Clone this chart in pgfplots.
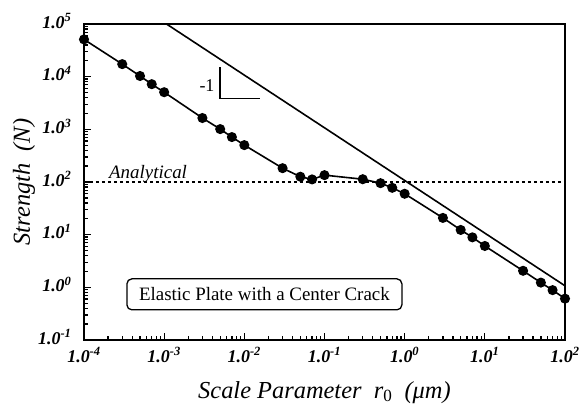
\documentclass[border=0pt]{standalone}
\usepackage{fontspec}
\setmainfont{Liberation Serif}
\usepackage{pgfplots}
\pgfplotsset{compat=1.18}

\begin{document}
\begin{tikzpicture}
\useasboundingbox (-84bp,-65bp) rectangle (504bp,340bp);
\begin{axis}[
  at={(0,0)}, anchor=south west,
  scale only axis,
  width=481bp, height=316bp,
  xmode=log, ymode=log,
  xmin=1e-4, xmax=1e2,
  ymin=1e-1, ymax=1e5,
  clip=false,
  axis line style={line width=2bp},
  tick pos=left,
  tick align=inside,
  major tick length=7bp,
  minor tick length=4bp,
  every tick/.style={line width=1.3bp, black},
  xtick={1e-4,1e-3,1e-2,1e-1,1e0,1e1,1e2},
  xticklabels={
    1.0\textsuperscript{-4},
    1.0\textsuperscript{-3},
    1.0\textsuperscript{-2},
    1.0\textsuperscript{-1},
    1.0\textsuperscript{0},
    1.0\textsuperscript{1},
    1.0\textsuperscript{2}},
  ytick={1e-1,1e0,1e1,1e2,1e3,1e4,1e5},
  yticklabels={
    1.0\textsuperscript{-1},
    1.0\textsuperscript{0},
    1.0\textsuperscript{1},
    1.0\textsuperscript{2},
    1.0\textsuperscript{3},
    1.0\textsuperscript{4},
    1.0\textsuperscript{5}},
  xticklabel style={font=\fontsize{18}{21}\selectfont\bfseries\itshape, yshift=-4bp},
  yticklabel style={font=\fontsize{18}{21}\selectfont\bfseries\itshape, anchor=base east, yshift=-4bp, xshift=-9bp},
  xlabel={\textit{Scale Parameter\ \ r}\textsubscript{0}\ \ \textit{(μm)}},
  ylabel={\textit{Strength\ \ (N)}},
  xlabel style={font=\fontsize{24.5}{28}\selectfont, at={(axis description cs:0.5,0)}, anchor=base, yshift=-58bp},
  ylabel style={font=\fontsize{24.5}{28}\selectfont, at={(axis description cs:0,0.5)}, anchor=center, yshift=60bp},
]
% numerical results
\addplot[black, line width=1.6bp, mark=*, mark size=4.2bp] coordinates {
(1e-4, 5.1e4) (3e-4, 1.73e4) (5e-4, 1.03e4) (7e-4, 7.2e3)
(1e-3, 5.07e3) (3e-3, 1.64e3) (5e-3, 1.01e3) (7e-3, 713)
(1e-2, 502) (3e-2, 183) (5e-2, 126) (7e-2, 112)
(1e-1, 135) (3e-1, 113) (5e-1, 95) (7e-1, 77.6)
(1, 59.8) (3, 20.8) (5, 12.3) (7, 8.9)
(10, 6.1) (30, 2.06) (50, 1.23) (70, 0.885) (100, 0.61)
};
% slope -1 line
\addplot[black, line width=1.6bp] coordinates {(1.07e-3, 1e5) (100, 1.07)};
% analytical
\addplot[black, line width=1.8bp, dash pattern=on 3.5bp off 2.5bp] coordinates {(1e-4, 100) (1e2, 100)};
% slope triangle
\addplot[black, line width=1.3bp] coordinates {(4.97e-3, 1.52e4) (4.97e-3, 3.9e3) (1.57e-2, 3.9e3)};
\node[font=\fontsize{18}{20}\selectfont] at (axis cs:3.42e-3, 6.9e3) {-1};
\node[font=\fontsize{19}{22}\selectfont\itshape, anchor=base] at (axis cs:6.3e-4, 117) {Analytical};
\node[draw, line width=1.3bp, rounded corners=5bp, inner sep=0pt, minimum width=275bp, minimum height=31bp,
  font=\fontsize{19}{22}\selectfont, fill=white] at (axis cs:1.78e-2, 0.736) {Elastic Plate with a Center Crack};
\end{axis}
\end{tikzpicture}
\end{document}
